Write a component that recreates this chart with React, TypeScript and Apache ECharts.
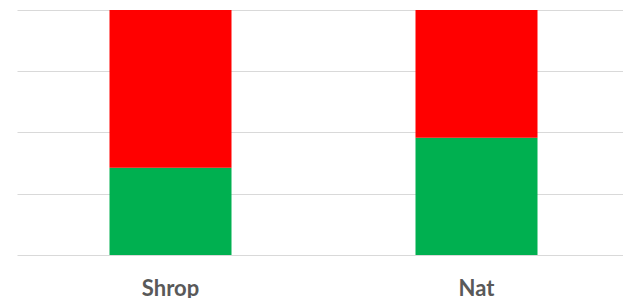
import React, { useEffect, useRef } from "react";
import * as echarts from "echarts";

const categories = ["Shrop", "Nat"];
const greenValues = [35.6, 47.9];
const redValues = [64.4, 52.1];

export default function App() {
  const ref = useRef<HTMLDivElement>(null);
  useEffect(() => {
    if (!ref.current) return;
    const chart = echarts.init(ref.current, undefined, { renderer: "svg" });
    chart.setOption({
      animation: false,
      grid: { left: 17.5, top: 10, width: 612, height: 245, containLabel: false },
      xAxis: {
        type: "category",
        data: categories,
        axisLine: { show: false },
        axisTick: { show: false },
        axisLabel: {
          color: "#595959",
          fontFamily: "Lato",
          fontWeight: "bold",
          fontSize: 22,
          margin: 21,
        },
      },
      yAxis: {
        type: "value",
        min: 0,
        max: 100,
        interval: 25,
        axisLabel: { show: false },
        axisLine: { show: false },
        axisTick: { show: false },
        splitLine: { lineStyle: { color: "#d9d9d9", width: 1 } },
      },
      series: [
        {
          type: "bar",
          stack: "total",
          data: greenValues,
          barWidth: 122,
          itemStyle: { color: "#00b050" },
        },
        {
          type: "bar",
          stack: "total",
          data: redValues,
          barWidth: 122,
          itemStyle: { color: "#ff0000" },
        },
      ],
    });
    return () => chart.dispose();
  }, []);
  return (
    <div
      style={{
        position: "absolute",
        left: 0,
        top: 0,
        width: 623,
        height: 298,
        overflow: "hidden",
      }}
    >
      <div ref={ref} style={{ width: 640, height: 298 }} />
    </div>
  );
}
